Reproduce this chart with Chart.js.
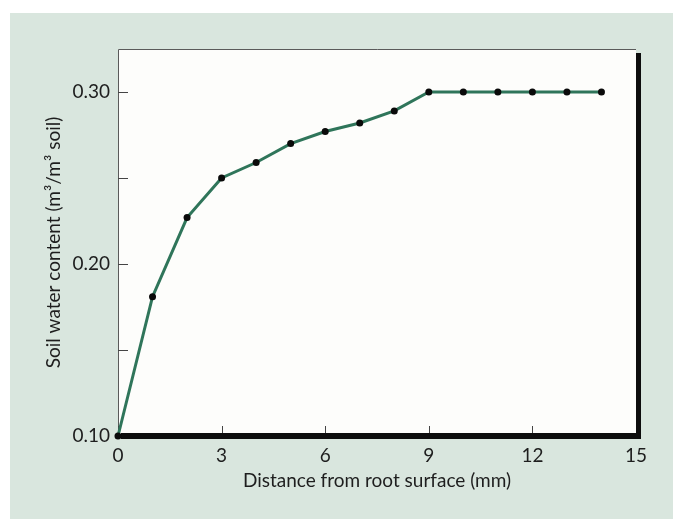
<!DOCTYPE html>
<html>
<head>
<meta charset="utf-8">
<script src="https://cdn.jsdelivr.net/npm/chart.js@4.4.1/dist/chart.umd.min.js"></script>
<style>
    body { margin: 0; background: #ffffff; }
    #fundo {
        position: absolute;
        left: 10px;
        top: 13px;
        width: 663px;
        height: 506px;
        background: #d9e6de;
    }
</style>
</head>
<body>
<div id="fundo">
    <canvas id="graficoSolo" width="663" height="506"></canvas>
</div>
<script>
// dados
const distancia = [0, 1, 2, 3, 4, 5, 6, 7, 8, 9, 10, 11, 12, 13, 14];
const umidadeSolo = [0.100, 0.181, 0.227, 0.250, 0.259, 0.270, 0.277, 0.282, 0.289, 0.300, 0.300, 0.300, 0.300, 0.300, 0.300];
const ticksX = [0, 3, 6, 9, 12, 15];
const ticksY = [0.10, 0.15, 0.20, 0.25, 0.30];
const rotulosY = ['0.10', '', '0.20', '', '0.30'];

const fonte = "Lato, 'Open Sans', sans-serif";
const corTexto = '#1e1e1e';

// moldura com sombra e marcas para dentro
const moldura = {
    id: 'moldura',
    beforeDatasetsDraw(chart) {
        const c = chart.ctx;
        const a = chart.chartArea;
        const sx = chart.scales.x;
        const sy = chart.scales.y;
        c.save();
        c.fillStyle = '#fdfdfb';
        c.fillRect(a.left, a.top, a.right - a.left, a.bottom - a.top);

        // bordas finas (topo e esquerda)
        c.strokeStyle = '#5a5a5a';
        c.lineWidth = 1;
        c.beginPath();
        c.moveTo(a.left + 0.5, a.bottom);
        c.lineTo(a.left + 0.5, a.top + 0.5);
        c.lineTo(a.right, a.top + 0.5);
        c.stroke();

        // marcas
        c.strokeStyle = '#444444';
        for (const t of sx.ticks) {
            const px = Math.round(sx.getPixelForValue(t.value)) + 0.5;
            c.beginPath();
            c.moveTo(px, a.bottom);
            c.lineTo(px, a.bottom - 10);
            c.stroke();
        }
        for (const t of sy.ticks) {
            const py = Math.round(sy.getPixelForValue(t.value)) + 0.5;
            c.beginPath();
            c.moveTo(a.left, py);
            c.lineTo(a.left + 10, py);
            c.stroke();
        }

        // sombra preta (base e direita)
        c.fillStyle = '#0d0d0d';
        c.fillRect(a.left + 3, a.bottom - 3, a.right - a.left + 2, 6);
        c.fillRect(a.right, a.top + 4, 5, a.bottom - a.top - 1);
        c.restore();
    }
};

const config = {
    type: 'line',
    data: {
        datasets: [{
            label: 'Soil water content',
            data: distancia.map((d, i) => ({ x: d, y: umidadeSolo[i] })),
            borderColor: '#2f755a',
            borderWidth: 3,
            pointRadius: 3.5,
            pointBackgroundColor: '#0a0a0a',
            pointBorderColor: '#0a0a0a',
            pointBorderWidth: 0,
            tension: 0,
            clip: false
        }]
    },
    options: {
        responsive: false,
        animation: false,
        layout: {
            padding: { left: 28, right: 37, top: 36, bottom: 23 }
        },
        plugins: {
            legend: { display: false },
            tooltip: { enabled: false }
        },
        scales: {
            x: {
                type: 'linear',
                min: 0,
                max: 15,
                grid: { display: false, drawTicks: false },
                border: { display: false },
                afterBuildTicks: (scale) => {
                    scale.ticks = ticksX.map(v => ({ value: v }));
                },
                afterFit: (scale) => { scale.height = 60; },
                ticks: {
                    padding: 8,
                    color: corTexto,
                    font: { family: fonte, size: 19 },
                    callback: (v) => String(v)
                },
                title: {
                    display: true,
                    text: 'Distance from root surface (mm)',
                    color: corTexto,
                    font: { family: fonte, size: 19 },
                    padding: 4
                }
            },
            y: {
                type: 'linear',
                min: 0.10,
                max: 0.325,
                grid: { display: false, drawTicks: false },
                border: { display: false },
                afterBuildTicks: (scale) => {
                    scale.ticks = ticksY.map(v => ({ value: v }));
                },
                afterFit: (scale) => { scale.width = 80; },
                ticks: {
                    padding: 8,
                    color: corTexto,
                    font: { family: fonte, size: 19 },
                    callback: (v, i) => rotulosY[i]
                },
                title: {
                    display: true,
                    text: 'Soil water content (m³/m³ soil)',
                    color: corTexto,
                    font: { family: fonte, size: 19 },
                    padding: 4
                }
            }
        }
    },
    plugins: [moldura]
};

new Chart(document.getElementById('graficoSolo'), config);
</script>
</body>
</html>
